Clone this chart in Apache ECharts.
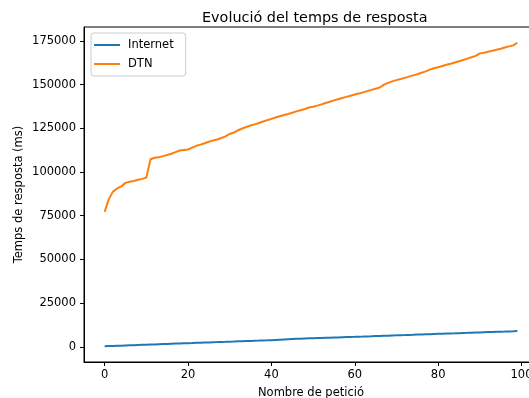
<!DOCTYPE html>
<html>
<head>
<meta charset="utf-8">
<script src="https://cdn.jsdelivr.net/npm/echarts@6/dist/echarts.min.js"></script>
<style>
html,body{margin:0;padding:0;background:#fff;}
#chart{width:529px;height:398px;}
</style>
</head>
<body>
<div id="chart"></div>
<script>
// Data
const requestIndex = Array.from({length: 100}, (_, i) => i);
const internetMs = [
  300, 390, 480, 570, 660, 750, 840, 930, 1020, 1110,
  1200, 1290, 1380, 1470, 1560, 1650, 1740, 1830, 1920, 2010,
  2100, 2180, 2270, 2350, 2440, 2520, 2610, 2690, 2780, 2860,
  2950, 3030, 3120, 3200, 3290, 3370, 3460, 3540, 3630, 3710,
  3800, 3940, 4080, 4220, 4360, 4500, 4580, 4660, 4740, 4820,
  4900, 4980, 5060, 5140, 5220, 5300, 5380, 5460, 5540, 5620,
  5700, 5790, 5870, 5960, 6040, 6130, 6210, 6300, 6380, 6470,
  6550, 6640, 6720, 6810, 6890, 6980, 7060, 7150, 7230, 7320,
  7400, 7480, 7570, 7650, 7730, 7820, 7900, 7980, 8070, 8150,
  8230, 8320, 8400, 8480, 8570, 8650, 8730, 8820, 8900, 9000
];
const dtnMs = [
  77200, 84500, 88800, 90600, 91800, 93800, 94400, 94900, 95600, 96100,
  96800, 107300, 108200, 108500, 109100, 109800, 110500, 111400, 112300, 112600,
  112900, 114000, 115000, 115700, 116500, 117300, 118100, 118600, 119500, 120400,
  121800, 122600, 123900, 124900, 125800, 126600, 127300, 128100, 128900, 129700,
  130400, 131200, 131900, 132600, 133200, 133900, 134700, 135400, 136100, 136900,
  137400, 138000, 138700, 139500, 140200, 141000, 141700, 142400, 143000, 143700,
  144400, 145000, 145600, 146300, 147000, 147700, 148400, 150000, 151000, 151900,
  152600, 153200, 153900, 154600, 155300, 156000, 156800, 157600, 158600, 159400,
  160000, 160700, 161400, 162000, 162700, 163400, 164100, 164900, 165700, 166500,
  167900, 168300, 168800, 169400, 170000, 170600, 171300, 171900, 172500, 174000
];
const xTicks = [0, 20, 40, 60, 80, 100];
const yTicks = [0, 25000, 50000, 75000, 100000, 125000, 150000, 175000];
const seriesNames = ['Internet', 'DTN'];
const titleText = 'Evolució del temps de resposta';
const xLabel = 'Nombre de petició';
const yLabel = 'Temps de resposta (ms)';

const FONT = 'DejaVu Sans';
const chart = echarts.init(document.getElementById('chart'), null, {renderer: 'canvas'});
chart.setOption({
  animation: false,
  backgroundColor: '#ffffff',
  title: {
    text: titleText,
    left: 197, top: 6,
    textStyle: {fontFamily: FONT, fontSize: 14.4, fontWeight: 'normal', color: '#000'}
  },
  legend: {
    data: seriesNames,
    orient: 'vertical',
    left: 91, top: 33,
    itemWidth: 26, itemHeight: 2, itemGap: 7,
    icon: 'rect',
    padding: [6, 12, 6, 3],
    backgroundColor: 'rgba(255,255,255,0.8)',
    borderColor: '#cccccc', borderWidth: 1, borderRadius: 3,
    textStyle: {fontFamily: FONT, fontSize: 11.5, color: '#000', padding: [0, 0, 0, 3]}
  },
  grid: {
    left: 84, top: 27, width: 454, bottom: 36,
    outerBoundsMode: 'none',
    show: true, borderColor: '#000', borderWidth: 1, backgroundColor: 'transparent',
    containLabel: false
  },
  xAxis: {
    type: 'value',
    min: -4.95, max: 103.95,
    name: xLabel, nameLocation: 'middle', nameGap: 25, nameMoveOverlap: false,
    nameTextStyle: {fontFamily: FONT, fontSize: 11.5, color: '#000'},
    axisLine: {show: true, onZero: false, lineStyle: {color: '#000', width: 1}},
    axisTick: {show: true, customValues: xTicks, length: 4, lineStyle: {color: '#000'}},
    axisLabel: {customValues: xTicks, fontFamily: FONT, fontSize: 11.5, color: '#000', margin: 7,
      formatter: v => String(v)},
    splitLine: {show: false}
  },
  yAxis: {
    type: 'value',
    min: -8700, max: 183000,
    name: yLabel, nameLocation: 'middle', nameGap: 59, nameMoveOverlap: false,
    nameTextStyle: {fontFamily: FONT, fontSize: 11.5, color: '#000'},
    axisLine: {show: true, onZero: false, lineStyle: {color: '#000', width: 1}},
    axisTick: {show: true, customValues: yTicks, length: 4, lineStyle: {color: '#000'}},
    axisLabel: {customValues: yTicks, fontFamily: FONT, fontSize: 11.5, color: '#000', margin: 8,
      formatter: v => String(v)},
    splitLine: {show: false}
  },
  series: [
    {
      name: seriesNames[0], type: 'line', showSymbol: false, symbol: 'none',
      data: requestIndex.map((x, i) => [x, internetMs[i]]),
      lineStyle: {color: '#1f77b4', width: 2}, itemStyle: {color: '#1f77b4'}
    },
    {
      name: seriesNames[1], type: 'line', showSymbol: false, symbol: 'none',
      data: requestIndex.map((x, i) => [x, dtnMs[i]]),
      lineStyle: {color: '#ff7f0e', width: 2}, itemStyle: {color: '#ff7f0e'}
    }
  ]
});
</script>
</body>
</html>
